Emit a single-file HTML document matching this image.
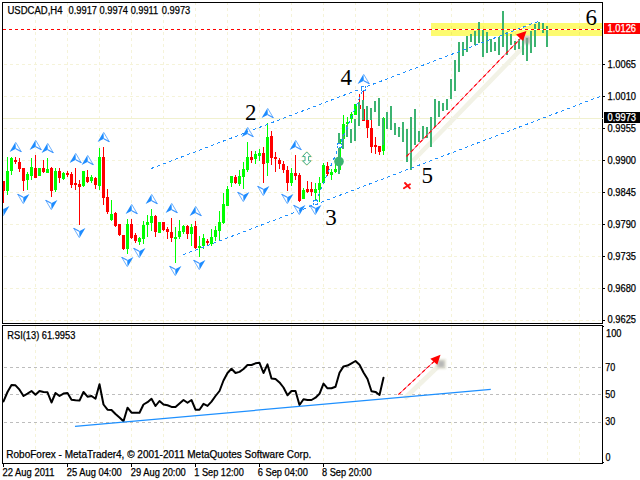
<!DOCTYPE html>
<html><head><meta charset="utf-8"><title>USDCAD,H4</title>
<style>html,body{margin:0;padding:0;background:#fff;overflow:hidden}svg{display:block}text{font-family:"Liberation Sans",sans-serif;font-size:10px;fill:#000;stroke:#000;stroke-width:0.25px}.s{font-family:"Liberation Serif",serif;font-size:23px;stroke:none}</style></head><body>
<svg width="640" height="480" viewBox="0 0 640 480">
<rect x="0" y="0" width="640" height="480" fill="#ffffff"/>
<g shape-rendering="crispEdges" fill="none" stroke="#f5f3d9" stroke-width="1" stroke-dasharray="3 3">
<line x1="35.5" y1="2" x2="35.5" y2="323"/>
<line x1="35.5" y1="326" x2="35.5" y2="463"/>
<line x1="67.5" y1="2" x2="67.5" y2="323"/>
<line x1="67.5" y1="326" x2="67.5" y2="463"/>
<line x1="99.5" y1="2" x2="99.5" y2="323"/>
<line x1="99.5" y1="326" x2="99.5" y2="463"/>
<line x1="131.5" y1="2" x2="131.5" y2="323"/>
<line x1="131.5" y1="326" x2="131.5" y2="463"/>
<line x1="163.5" y1="2" x2="163.5" y2="323"/>
<line x1="163.5" y1="326" x2="163.5" y2="463"/>
<line x1="195.5" y1="2" x2="195.5" y2="323"/>
<line x1="195.5" y1="326" x2="195.5" y2="463"/>
<line x1="227.5" y1="2" x2="227.5" y2="323"/>
<line x1="227.5" y1="326" x2="227.5" y2="463"/>
<line x1="259.5" y1="2" x2="259.5" y2="323"/>
<line x1="259.5" y1="326" x2="259.5" y2="463"/>
<line x1="291.5" y1="2" x2="291.5" y2="323"/>
<line x1="291.5" y1="326" x2="291.5" y2="463"/>
<line x1="323.5" y1="2" x2="323.5" y2="323"/>
<line x1="323.5" y1="326" x2="323.5" y2="463"/>
<line x1="355.5" y1="2" x2="355.5" y2="323"/>
<line x1="355.5" y1="326" x2="355.5" y2="463"/>
<line x1="387.5" y1="2" x2="387.5" y2="323"/>
<line x1="387.5" y1="326" x2="387.5" y2="463"/>
<line x1="419.5" y1="2" x2="419.5" y2="323"/>
<line x1="419.5" y1="326" x2="419.5" y2="463"/>
<line x1="451.5" y1="2" x2="451.5" y2="323"/>
<line x1="451.5" y1="326" x2="451.5" y2="463"/>
<line x1="483.5" y1="2" x2="483.5" y2="323"/>
<line x1="483.5" y1="326" x2="483.5" y2="463"/>
<line x1="515.5" y1="2" x2="515.5" y2="323"/>
<line x1="515.5" y1="326" x2="515.5" y2="463"/>
<line x1="547.5" y1="2" x2="547.5" y2="323"/>
<line x1="547.5" y1="326" x2="547.5" y2="463"/>
<line x1="579.5" y1="2" x2="579.5" y2="323"/>
<line x1="579.5" y1="326" x2="579.5" y2="463"/>
<line x1="4" y1="64.5" x2="602" y2="64.5"/>
<line x1="4" y1="96.5" x2="602" y2="96.5"/>
<line x1="4" y1="128.5" x2="602" y2="128.5"/>
<line x1="4" y1="160.5" x2="602" y2="160.5"/>
<line x1="4" y1="192.5" x2="602" y2="192.5"/>
<line x1="4" y1="224.5" x2="602" y2="224.5"/>
<line x1="4" y1="256.5" x2="602" y2="256.5"/>
<line x1="4" y1="288.5" x2="602" y2="288.5"/>
<line x1="4" y1="320.5" x2="602" y2="320.5"/>
</g>
<rect x="3" y="118" width="599" height="1" fill="#f1f1cf" shape-rendering="crispEdges"/>
<rect x="431" y="23" width="171" height="13" fill="#fdfb70" shape-rendering="crispEdges"/>
<g shape-rendering="crispEdges" fill="#f1ee68">
<rect x="451" y="26" width="1" height="3"/><rect x="451" y="32" width="1" height="3"/>
<rect x="483" y="26" width="1" height="3"/><rect x="483" y="32" width="1" height="3"/>
<rect x="515" y="26" width="1" height="3"/><rect x="515" y="32" width="1" height="3"/>
<rect x="547" y="26" width="1" height="3"/><rect x="547" y="32" width="1" height="3"/>
<rect x="579" y="26" width="1" height="3"/><rect x="579" y="32" width="1" height="3"/>
</g>
<g shape-rendering="crispEdges" fill="none" stroke="#bdbdbd" stroke-width="1" stroke-dasharray="3 3">
<line x1="4" y1="367.5" x2="602" y2="367.5"/>
<line x1="4" y1="394.5" x2="602" y2="394.5"/>
<line x1="4" y1="422.5" x2="602" y2="422.5"/>
</g>
<filter id="bl" x="-50%" y="-50%" width="200%" height="200%"><feGaussianBlur stdDeviation="0.8"/></filter>
<line x1="412.8" y1="161.0" x2="523.3" y2="47.0" stroke="#f2f2e6" stroke-width="4.6" />
<rect x="523" y="35.5" width="8" height="9" fill="#e6e5d8" filter="url(#bl)"/>
<line x1="404.5" y1="398.5" x2="438.0" y2="366.5" stroke="#f2f2e6" stroke-width="4.6" />
<rect x="436" y="359" width="10" height="10" fill="#e6e5d8" filter="url(#bl)"/>
<g shape-rendering="crispEdges">
<rect x="3" y="181" width="1" height="22" fill="#ff0000"/>
<rect x="2" y="181" width="3" height="10" fill="#ff0000"/>
<rect x="7" y="157" width="1" height="38" fill="#00ff00"/>
<rect x="6" y="171" width="3" height="20" fill="#00ff00"/>
<rect x="11" y="157" width="1" height="18" fill="#00ff00"/>
<rect x="10" y="158" width="3" height="13" fill="#00ff00"/>
<rect x="15" y="157" width="1" height="7" fill="#ff0000"/>
<rect x="14" y="160" width="3" height="2" fill="#ff0000"/>
<rect x="19" y="158" width="1" height="14" fill="#ff0000"/>
<rect x="18" y="162" width="3" height="7" fill="#ff0000"/>
<rect x="23" y="168" width="1" height="23" fill="#ff0000"/>
<rect x="22" y="168" width="3" height="13" fill="#ff0000"/>
<rect x="27" y="172" width="1" height="18" fill="#00ff00"/>
<rect x="26" y="174" width="3" height="6" fill="#00ff00"/>
<rect x="31" y="158" width="1" height="22" fill="#00ff00"/>
<rect x="30" y="167" width="3" height="9" fill="#00ff00"/>
<rect x="35" y="155" width="1" height="23" fill="#ff0000"/>
<rect x="34" y="168" width="3" height="10" fill="#ff0000"/>
<rect x="39" y="168" width="1" height="8" fill="#00ff00"/>
<rect x="38" y="168" width="3" height="8" fill="#00ff00"/>
<rect x="43" y="160" width="1" height="13" fill="#ff0000"/>
<rect x="42" y="168" width="3" height="4" fill="#ff0000"/>
<rect x="47" y="158" width="1" height="15" fill="#00ff00"/>
<rect x="46" y="169" width="3" height="4" fill="#00ff00"/>
<rect x="51" y="167" width="1" height="30" fill="#ff0000"/>
<rect x="50" y="168" width="3" height="23" fill="#ff0000"/>
<rect x="55" y="168" width="1" height="24" fill="#00ff00"/>
<rect x="54" y="171" width="3" height="19" fill="#00ff00"/>
<rect x="59" y="168" width="1" height="15" fill="#ff0000"/>
<rect x="58" y="171" width="3" height="7" fill="#ff0000"/>
<rect x="63" y="172" width="1" height="8" fill="#00ff00"/>
<rect x="62" y="173" width="3" height="6" fill="#00ff00"/>
<rect x="67" y="171" width="1" height="6" fill="#ff0000"/>
<rect x="66" y="173" width="3" height="2" fill="#ff0000"/>
<rect x="71" y="172" width="1" height="16" fill="#ff0000"/>
<rect x="70" y="174" width="3" height="11" fill="#ff0000"/>
<rect x="75" y="168" width="1" height="22" fill="#ff0000"/>
<rect x="74" y="183" width="3" height="2" fill="#ff0000"/>
<rect x="79" y="180" width="1" height="45" fill="#ff0000"/>
<rect x="78" y="184" width="3" height="3" fill="#ff0000"/>
<rect x="83" y="171" width="1" height="16" fill="#00ff00"/>
<rect x="82" y="171" width="3" height="15" fill="#00ff00"/>
<rect x="87" y="170" width="1" height="13" fill="#ff0000"/>
<rect x="86" y="177" width="3" height="5" fill="#ff0000"/>
<rect x="91" y="175" width="1" height="8" fill="#00ff00"/>
<rect x="90" y="177" width="3" height="4" fill="#00ff00"/>
<rect x="95" y="177" width="1" height="12" fill="#ff0000"/>
<rect x="94" y="178" width="3" height="7" fill="#ff0000"/>
<rect x="99" y="148" width="1" height="42" fill="#00ff00"/>
<rect x="98" y="157" width="3" height="29" fill="#00ff00"/>
<rect x="103" y="147" width="1" height="58" fill="#ff0000"/>
<rect x="102" y="157" width="3" height="41" fill="#ff0000"/>
<rect x="107" y="189" width="1" height="25" fill="#ff0000"/>
<rect x="106" y="197" width="3" height="15" fill="#ff0000"/>
<rect x="111" y="200" width="1" height="21" fill="#00ff00"/>
<rect x="110" y="214" width="3" height="6" fill="#00ff00"/>
<rect x="115" y="212" width="1" height="15" fill="#ff0000"/>
<rect x="114" y="213" width="3" height="13" fill="#ff0000"/>
<rect x="119" y="224" width="1" height="12" fill="#ff0000"/>
<rect x="118" y="224" width="3" height="11" fill="#ff0000"/>
<rect x="123" y="235" width="1" height="15" fill="#ff0000"/>
<rect x="122" y="235" width="3" height="14" fill="#ff0000"/>
<rect x="127" y="219" width="1" height="35" fill="#00ff00"/>
<rect x="126" y="224" width="3" height="25" fill="#00ff00"/>
<rect x="131" y="219" width="1" height="20" fill="#ff0000"/>
<rect x="130" y="224" width="3" height="14" fill="#ff0000"/>
<rect x="135" y="233" width="1" height="10" fill="#ff0000"/>
<rect x="134" y="235" width="3" height="6" fill="#ff0000"/>
<rect x="139" y="237" width="1" height="8" fill="#00ff00"/>
<rect x="138" y="238" width="3" height="4" fill="#00ff00"/>
<rect x="143" y="221" width="1" height="23" fill="#00ff00"/>
<rect x="142" y="225" width="3" height="14" fill="#00ff00"/>
<rect x="147" y="215" width="1" height="22" fill="#00ff00"/>
<rect x="146" y="222" width="3" height="3" fill="#00ff00"/>
<rect x="151" y="209" width="1" height="22" fill="#00ff00"/>
<rect x="150" y="216" width="3" height="7" fill="#00ff00"/>
<rect x="155" y="215" width="1" height="22" fill="#ff0000"/>
<rect x="154" y="216" width="3" height="16" fill="#ff0000"/>
<rect x="159" y="222" width="1" height="11" fill="#00ff00"/>
<rect x="158" y="222" width="3" height="11" fill="#00ff00"/>
<rect x="163" y="222" width="1" height="9" fill="#ff0000"/>
<rect x="162" y="222" width="3" height="8" fill="#ff0000"/>
<rect x="167" y="227" width="1" height="12" fill="#ff0000"/>
<rect x="166" y="229" width="3" height="3" fill="#ff0000"/>
<rect x="171" y="218" width="1" height="24" fill="#ff0000"/>
<rect x="170" y="232" width="3" height="6" fill="#ff0000"/>
<rect x="175" y="227" width="1" height="36" fill="#00ff00"/>
<rect x="174" y="237" width="3" height="2" fill="#00ff00"/>
<rect x="179" y="220" width="1" height="19" fill="#00ff00"/>
<rect x="178" y="231" width="3" height="6" fill="#00ff00"/>
<rect x="183" y="225" width="1" height="9" fill="#00ff00"/>
<rect x="182" y="226" width="3" height="6" fill="#00ff00"/>
<rect x="187" y="225" width="1" height="14" fill="#ff0000"/>
<rect x="186" y="226" width="3" height="8" fill="#ff0000"/>
<rect x="191" y="224" width="1" height="22" fill="#00ff00"/>
<rect x="190" y="227" width="3" height="7" fill="#00ff00"/>
<rect x="195" y="221" width="1" height="28" fill="#ff0000"/>
<rect x="194" y="226" width="3" height="22" fill="#ff0000"/>
<rect x="199" y="236" width="1" height="21" fill="#00ff00"/>
<rect x="198" y="246" width="3" height="2" fill="#00ff00"/>
<rect x="203" y="234" width="1" height="15" fill="#00ff00"/>
<rect x="202" y="238" width="3" height="8" fill="#00ff00"/>
<rect x="207" y="239" width="1" height="7" fill="#ff0000"/>
<rect x="206" y="241" width="3" height="2" fill="#ff0000"/>
<rect x="211" y="229" width="1" height="17" fill="#00ff00"/>
<rect x="210" y="237" width="3" height="7" fill="#00ff00"/>
<rect x="215" y="226" width="1" height="15" fill="#00ff00"/>
<rect x="214" y="230" width="3" height="7" fill="#00ff00"/>
<rect x="219" y="211" width="1" height="29" fill="#00ff00"/>
<rect x="218" y="222" width="3" height="9" fill="#00ff00"/>
<rect x="223" y="193" width="1" height="31" fill="#00ff00"/>
<rect x="222" y="204" width="3" height="19" fill="#00ff00"/>
<rect x="227" y="186" width="1" height="20" fill="#00ff00"/>
<rect x="226" y="189" width="3" height="17" fill="#00ff00"/>
<rect x="231" y="176" width="1" height="11" fill="#00ff00"/>
<rect x="230" y="176" width="3" height="7" fill="#00ff00"/>
<rect x="235" y="175" width="1" height="9" fill="#ff0000"/>
<rect x="234" y="177" width="3" height="6" fill="#ff0000"/>
<rect x="239" y="170" width="1" height="16" fill="#00ff00"/>
<rect x="238" y="176" width="3" height="8" fill="#00ff00"/>
<rect x="243" y="162" width="1" height="27" fill="#00ff00"/>
<rect x="242" y="169" width="3" height="8" fill="#00ff00"/>
<rect x="247" y="142" width="1" height="30" fill="#00ff00"/>
<rect x="246" y="157" width="3" height="13" fill="#00ff00"/>
<rect x="251" y="151" width="1" height="12" fill="#ff0000"/>
<rect x="250" y="157" width="3" height="3" fill="#ff0000"/>
<rect x="255" y="151" width="1" height="13" fill="#00ff00"/>
<rect x="254" y="154" width="3" height="5" fill="#00ff00"/>
<rect x="259" y="149" width="1" height="12" fill="#00ff00"/>
<rect x="258" y="153" width="3" height="3" fill="#00ff00"/>
<rect x="263" y="147" width="1" height="36" fill="#ff0000"/>
<rect x="262" y="153" width="3" height="11" fill="#ff0000"/>
<rect x="267" y="123" width="1" height="53" fill="#00ff00"/>
<rect x="266" y="137" width="3" height="26" fill="#00ff00"/>
<rect x="271" y="131" width="1" height="34" fill="#ff0000"/>
<rect x="270" y="136" width="3" height="22" fill="#ff0000"/>
<rect x="275" y="152" width="1" height="20" fill="#ff0000"/>
<rect x="274" y="157" width="3" height="2" fill="#ff0000"/>
<rect x="279" y="158" width="1" height="11" fill="#ff0000"/>
<rect x="278" y="160" width="3" height="4" fill="#ff0000"/>
<rect x="283" y="161" width="1" height="12" fill="#ff0000"/>
<rect x="282" y="164" width="3" height="6" fill="#ff0000"/>
<rect x="287" y="166" width="1" height="25" fill="#ff0000"/>
<rect x="286" y="170" width="3" height="13" fill="#ff0000"/>
<rect x="291" y="168" width="1" height="18" fill="#00ff00"/>
<rect x="290" y="173" width="3" height="10" fill="#00ff00"/>
<rect x="295" y="155" width="1" height="25" fill="#ff0000"/>
<rect x="294" y="173" width="3" height="3" fill="#ff0000"/>
<rect x="299" y="173" width="1" height="29" fill="#ff0000"/>
<rect x="298" y="175" width="3" height="26" fill="#ff0000"/>
<rect x="303" y="188" width="1" height="11" fill="#00ff00"/>
<rect x="302" y="190" width="3" height="9" fill="#00ff00"/>
<rect x="307" y="181" width="1" height="12" fill="#ff0000"/>
<rect x="306" y="189" width="3" height="3" fill="#ff0000"/>
<rect x="311" y="182" width="1" height="14" fill="#ff0000"/>
<rect x="310" y="189" width="3" height="3" fill="#ff0000"/>
<rect x="315" y="183" width="1" height="17" fill="#00ff00"/>
<rect x="314" y="189" width="3" height="4" fill="#00ff00"/>
<rect x="319" y="177" width="1" height="25" fill="#00ff00"/>
<rect x="318" y="183" width="3" height="7" fill="#00ff00"/>
<rect x="323" y="163" width="1" height="20" fill="#00ff00"/>
<rect x="322" y="165" width="3" height="18" fill="#00ff00"/>
<rect x="327" y="162" width="1" height="14" fill="#ff0000"/>
<rect x="326" y="166" width="3" height="8" fill="#ff0000"/>
<rect x="331" y="169" width="1" height="11" fill="#00ff00"/>
<rect x="330" y="172" width="3" height="3" fill="#00ff00"/>
<rect x="335" y="164" width="1" height="9" fill="#00ff00"/>
<rect x="334" y="169" width="3" height="3" fill="#00ff00"/>
<rect x="339" y="133" width="1" height="37" fill="#00ff00"/>
<rect x="338" y="139" width="3" height="31" fill="#00ff00"/>
<rect x="343" y="115" width="1" height="24" fill="#00ff00"/>
<rect x="342" y="124" width="3" height="15" fill="#00ff00"/>
<rect x="347" y="117" width="1" height="13" fill="#00ff00"/>
<rect x="346" y="122" width="3" height="2" fill="#00ff00"/>
<rect x="351" y="112" width="1" height="11" fill="#00ff00"/>
<rect x="350" y="114" width="3" height="5" fill="#00ff00"/>
<rect x="355" y="104" width="1" height="11" fill="#00ff00"/>
<rect x="354" y="104" width="3" height="11" fill="#00ff00"/>
<rect x="359" y="94" width="1" height="15" fill="#ff0000"/>
<rect x="358" y="105" width="3" height="4" fill="#ff0000"/>
<rect x="363" y="91" width="1" height="30" fill="#ff0000"/>
<rect x="362" y="109" width="3" height="12" fill="#ff0000"/>
<rect x="367" y="120" width="1" height="18" fill="#ff0000"/>
<rect x="366" y="120" width="3" height="8" fill="#ff0000"/>
<rect x="371" y="120" width="1" height="33" fill="#ff0000"/>
<rect x="370" y="128" width="3" height="19" fill="#ff0000"/>
<rect x="375" y="137" width="1" height="17" fill="#ff0000"/>
<rect x="374" y="145" width="3" height="2" fill="#ff0000"/>
<rect x="379" y="146" width="1" height="9" fill="#ff0000"/>
<rect x="378" y="146" width="3" height="6" fill="#ff0000"/>
<rect x="383" y="117" width="1" height="38" fill="#00ff00"/>
<rect x="382" y="118" width="3" height="33" fill="#00ff00"/>
</g>
<g shape-rendering="crispEdges" fill="#3cb371">
<rect x="338" y="133" width="2" height="41"/>
<rect x="342" y="134" width="2" height="15"/>
<rect x="346" y="125" width="2" height="12"/>
<rect x="350" y="129" width="2" height="14"/>
<rect x="354" y="119" width="2" height="22"/>
<rect x="358" y="102" width="2" height="24"/>
<rect x="362" y="100" width="2" height="20"/>
<rect x="366" y="106" width="2" height="14"/>
<rect x="370" y="108" width="2" height="12"/>
<rect x="374" y="101" width="2" height="11"/>
<rect x="378" y="98" width="2" height="28"/>
<rect x="382" y="118" width="2" height="27"/>
<rect x="386" y="112" width="2" height="17"/>
<rect x="390" y="106" width="2" height="24"/>
<rect x="394" y="123" width="2" height="12"/>
<rect x="398" y="127" width="2" height="10"/>
<rect x="402" y="122" width="2" height="20"/>
<rect x="406" y="129" width="2" height="33"/>
<rect x="410" y="117" width="2" height="53"/>
<rect x="414" y="109" width="2" height="36"/>
<rect x="418" y="131" width="2" height="11"/>
<rect x="422" y="126" width="2" height="13"/>
<rect x="426" y="127" width="2" height="11"/>
<rect x="430" y="117" width="2" height="30"/>
<rect x="434" y="99" width="2" height="28"/>
<rect x="438" y="101" width="2" height="16"/>
<rect x="442" y="103" width="2" height="8"/>
<rect x="446" y="99" width="2" height="11"/>
<rect x="450" y="79" width="2" height="20"/>
<rect x="454" y="60" width="2" height="31"/>
<rect x="458" y="42" width="2" height="30"/>
<rect x="462" y="42" width="2" height="14"/>
<rect x="466" y="36" width="2" height="16"/>
<rect x="470" y="34" width="2" height="8"/>
<rect x="474" y="31" width="2" height="14"/>
<rect x="478" y="22" width="2" height="21"/>
<rect x="482" y="30" width="2" height="27"/>
<rect x="486" y="32" width="2" height="21"/>
<rect x="490" y="39" width="2" height="13"/>
<rect x="494" y="42" width="2" height="9"/>
<rect x="498" y="37" width="2" height="18"/>
<rect x="502" y="11" width="2" height="36"/>
<rect x="506" y="32" width="2" height="23"/>
<rect x="510" y="34" width="2" height="11"/>
<rect x="514" y="41" width="2" height="9"/>
<rect x="518" y="39" width="2" height="10"/>
<rect x="522" y="37" width="2" height="18"/>
<rect x="526" y="38" width="2" height="23"/>
<rect x="530" y="31" width="2" height="22"/>
<rect x="534" y="24" width="2" height="23"/>
<rect x="538" y="22" width="2" height="7"/>
<rect x="542" y="23" width="2" height="10"/>
<rect x="546" y="26" width="2" height="21"/>
</g>
<rect x="524.3" y="36.5" width="5.6" height="7" fill="#9a9a9a" fill-opacity="0.62" filter="url(#bl)"/>
<rect x="437.8" y="360.8" width="6.4" height="6.4" fill="#b4b4b4" fill-opacity="0.95" filter="url(#bl)"/>
<circle cx="339" cy="161.5" r="4.8" fill="#3cb371"/>
<line x1="505.00" y1="34.03" x2="538.50" y2="21.30" stroke="#fff" stroke-width="1" shape-rendering="crispEdges"/>
<line x1="151.00" y1="168.60" x2="538.50" y2="21.30" stroke="#1e90ff" stroke-width="1" stroke-dasharray="3.21 3.21" shape-rendering="crispEdges"/>
<line x1="183.00" y1="254.80" x2="602.00" y2="95.72" stroke="#1e90ff" stroke-width="1" stroke-dasharray="3.21 3.21" shape-rendering="crispEdges"/>
<line x1="315.50" y1="202.30" x2="363.50" y2="88.50" stroke="#1e90ff" stroke-width="1" stroke-dasharray="3.26 3.26" shape-rendering="crispEdges"/>
<rect x="313.5" y="200.5" width="4" height="4" fill="#fff" stroke="#1e90ff" stroke-width="1" stroke-dasharray="2 1" shape-rendering="crispEdges"/>
<rect x="337.5" y="143.5" width="4" height="4" fill="#fff" stroke="#1e90ff" stroke-width="1" stroke-dasharray="2 1" shape-rendering="crispEdges"/>
<rect x="361.5" y="86.5" width="4" height="4" fill="#fff" stroke="#1e90ff" stroke-width="1" stroke-dasharray="2 1" shape-rendering="crispEdges"/>
<rect x="431" y="29" width="171" height="1" fill="#fff" shape-rendering="crispEdges"/>
<line x1="3" y1="29.5" x2="602" y2="29.5" stroke="#ff0000" stroke-width="1" stroke-dasharray="3 3" shape-rendering="crispEdges"/>
<line x1="406.5" y1="156.5" x2="520.5" y2="38.5" stroke="#ff4d80" stroke-width="1"/>
<line x1="406.5" y1="156.5" x2="520.5" y2="38.5" stroke="#ff0000" stroke-width="1.1" stroke-dasharray="3.5 3"/>
<polygon points="526.5,31 516,34.5 523,41" fill="#ff0000"/>
<line x1="398.5" y1="394.5" x2="434.0" y2="361.5" stroke="#ff4d80" stroke-width="1"/>
<line x1="398.5" y1="394.5" x2="434.0" y2="361.5" stroke="#ff0000" stroke-width="1.1" stroke-dasharray="3.5 3"/>
<polygon points="440.5,354.8 430.3,358.8 437.3,364.7" fill="#ff0000"/>
<clipPath id="cm"><rect x="3" y="3" width="599" height="320"/></clipPath>
<g clip-path="url(#cm)">
<polygon points="15.5,141.9 9.6,151.9 15.8,148.8" fill="#1e8cff"/>
<polygon points="15.8,143.1 20.7,151.4 16.3,148.8" fill="#fff"/>
<line x1="15.7" y1="142.3" x2="21.3" y2="151.8" stroke="#5aa7ff" stroke-width="0.9"/>
<line x1="15.8" y1="148.8" x2="21.4" y2="151.7" stroke="#3893ff" stroke-width="1.1"/>
<polygon points="35.5,139.9 29.6,149.9 35.8,146.8" fill="#1e8cff"/>
<polygon points="35.8,141.1 40.7,149.4 36.3,146.8" fill="#fff"/>
<line x1="35.7" y1="140.3" x2="41.3" y2="149.8" stroke="#5aa7ff" stroke-width="0.9"/>
<line x1="35.8" y1="146.8" x2="41.4" y2="149.7" stroke="#3893ff" stroke-width="1.1"/>
<polygon points="47.5,142.9 41.6,152.9 47.8,149.8" fill="#1e8cff"/>
<polygon points="47.8,144.1 52.7,152.4 48.3,149.8" fill="#fff"/>
<line x1="47.7" y1="143.3" x2="53.3" y2="152.8" stroke="#5aa7ff" stroke-width="0.9"/>
<line x1="47.8" y1="149.8" x2="53.4" y2="152.7" stroke="#3893ff" stroke-width="1.1"/>
<polygon points="75.5,152.9 69.6,162.9 75.8,159.8" fill="#1e8cff"/>
<polygon points="75.8,154.1 80.7,162.4 76.3,159.8" fill="#fff"/>
<line x1="75.7" y1="153.3" x2="81.3" y2="162.8" stroke="#5aa7ff" stroke-width="0.9"/>
<line x1="75.8" y1="159.8" x2="81.4" y2="162.7" stroke="#3893ff" stroke-width="1.1"/>
<polygon points="87.5,154.9 81.6,164.9 87.8,161.8" fill="#1e8cff"/>
<polygon points="87.8,156.1 92.7,164.4 88.3,161.8" fill="#fff"/>
<line x1="87.7" y1="155.3" x2="93.3" y2="164.8" stroke="#5aa7ff" stroke-width="0.9"/>
<line x1="87.8" y1="161.8" x2="93.4" y2="164.7" stroke="#3893ff" stroke-width="1.1"/>
<polygon points="103.5,131.9 97.6,141.9 103.8,138.8" fill="#1e8cff"/>
<polygon points="103.8,133.1 108.7,141.4 104.3,138.8" fill="#fff"/>
<line x1="103.7" y1="132.3" x2="109.3" y2="141.8" stroke="#5aa7ff" stroke-width="0.9"/>
<line x1="103.8" y1="138.8" x2="109.4" y2="141.7" stroke="#3893ff" stroke-width="1.1"/>
<polygon points="131.5,203.9 125.6,213.9 131.8,210.8" fill="#1e8cff"/>
<polygon points="131.8,205.1 136.7,213.4 132.3,210.8" fill="#fff"/>
<line x1="131.7" y1="204.3" x2="137.3" y2="213.8" stroke="#5aa7ff" stroke-width="0.9"/>
<line x1="131.8" y1="210.8" x2="137.4" y2="213.7" stroke="#3893ff" stroke-width="1.1"/>
<polygon points="151.5,193.9 145.6,203.9 151.8,200.8" fill="#1e8cff"/>
<polygon points="151.8,195.1 156.7,203.4 152.3,200.8" fill="#fff"/>
<line x1="151.7" y1="194.3" x2="157.3" y2="203.8" stroke="#5aa7ff" stroke-width="0.9"/>
<line x1="151.8" y1="200.8" x2="157.4" y2="203.7" stroke="#3893ff" stroke-width="1.1"/>
<polygon points="171.5,202.9 165.6,212.9 171.8,209.8" fill="#1e8cff"/>
<polygon points="171.8,204.1 176.7,212.4 172.3,209.8" fill="#fff"/>
<line x1="171.7" y1="203.3" x2="177.3" y2="212.8" stroke="#5aa7ff" stroke-width="0.9"/>
<line x1="171.8" y1="209.8" x2="177.4" y2="212.7" stroke="#3893ff" stroke-width="1.1"/>
<polygon points="195.5,205.9 189.6,215.9 195.8,212.8" fill="#1e8cff"/>
<polygon points="195.8,207.1 200.7,215.4 196.3,212.8" fill="#fff"/>
<line x1="195.7" y1="206.3" x2="201.3" y2="215.8" stroke="#5aa7ff" stroke-width="0.9"/>
<line x1="195.8" y1="212.8" x2="201.4" y2="215.7" stroke="#3893ff" stroke-width="1.1"/>
<polygon points="247.5,126.9 241.6,136.9 247.8,133.8" fill="#1e8cff"/>
<polygon points="247.8,128.1 252.7,136.4 248.3,133.8" fill="#fff"/>
<line x1="247.7" y1="127.3" x2="253.3" y2="136.8" stroke="#5aa7ff" stroke-width="0.9"/>
<line x1="247.8" y1="133.8" x2="253.4" y2="136.7" stroke="#3893ff" stroke-width="1.1"/>
<polygon points="267.5,107.9 261.6,117.9 267.8,114.8" fill="#1e8cff"/>
<polygon points="267.8,109.1 272.7,117.4 268.3,114.8" fill="#fff"/>
<line x1="267.7" y1="108.3" x2="273.3" y2="117.8" stroke="#5aa7ff" stroke-width="0.9"/>
<line x1="267.8" y1="114.8" x2="273.4" y2="117.7" stroke="#3893ff" stroke-width="1.1"/>
<polygon points="295.5,139.9 289.6,149.9 295.8,146.8" fill="#1e8cff"/>
<polygon points="295.8,141.1 300.7,149.4 296.3,146.8" fill="#fff"/>
<line x1="295.7" y1="140.3" x2="301.3" y2="149.8" stroke="#5aa7ff" stroke-width="0.9"/>
<line x1="295.8" y1="146.8" x2="301.4" y2="149.7" stroke="#3893ff" stroke-width="1.1"/>
<polygon points="363.5,73.9 357.6,83.9 363.8,80.8" fill="#1e8cff"/>
<polygon points="363.8,75.1 368.7,83.4 364.3,80.8" fill="#fff"/>
<line x1="363.7" y1="74.3" x2="369.3" y2="83.8" stroke="#5aa7ff" stroke-width="0.9"/>
<line x1="363.8" y1="80.8" x2="369.4" y2="83.7" stroke="#3893ff" stroke-width="1.1"/>
<polygon points="3.5,216.1 9.4,206.1 3.2,209.2" fill="#1e8cff"/>
<polygon points="3.2,214.9 -1.7,206.6 2.7,209.2" fill="#fff"/>
<line x1="3.3" y1="215.7" x2="-2.3" y2="206.2" stroke="#5aa7ff" stroke-width="0.9"/>
<line x1="3.2" y1="209.2" x2="-2.4" y2="206.3" stroke="#3893ff" stroke-width="1.1"/>
<polygon points="23.5,204.1 29.4,194.1 23.2,197.2" fill="#1e8cff"/>
<polygon points="23.2,202.9 18.3,194.6 22.7,197.2" fill="#fff"/>
<line x1="23.3" y1="203.7" x2="17.7" y2="194.2" stroke="#5aa7ff" stroke-width="0.9"/>
<line x1="23.2" y1="197.2" x2="17.6" y2="194.3" stroke="#3893ff" stroke-width="1.1"/>
<polygon points="51.5,210.1 57.4,200.1 51.2,203.2" fill="#1e8cff"/>
<polygon points="51.2,208.9 46.3,200.6 50.7,203.2" fill="#fff"/>
<line x1="51.3" y1="209.7" x2="45.7" y2="200.2" stroke="#5aa7ff" stroke-width="0.9"/>
<line x1="51.2" y1="203.2" x2="45.6" y2="200.3" stroke="#3893ff" stroke-width="1.1"/>
<polygon points="79.5,238.1 85.4,228.1 79.2,231.2" fill="#1e8cff"/>
<polygon points="79.2,236.9 74.3,228.6 78.7,231.2" fill="#fff"/>
<line x1="79.3" y1="237.7" x2="73.7" y2="228.2" stroke="#5aa7ff" stroke-width="0.9"/>
<line x1="79.2" y1="231.2" x2="73.6" y2="228.3" stroke="#3893ff" stroke-width="1.1"/>
<polygon points="127.5,267.1 133.4,257.1 127.2,260.2" fill="#1e8cff"/>
<polygon points="127.2,265.9 122.3,257.6 126.7,260.2" fill="#fff"/>
<line x1="127.3" y1="266.7" x2="121.7" y2="257.2" stroke="#5aa7ff" stroke-width="0.9"/>
<line x1="127.2" y1="260.2" x2="121.6" y2="257.3" stroke="#3893ff" stroke-width="1.1"/>
<polygon points="139.5,258.1 145.4,248.1 139.2,251.2" fill="#1e8cff"/>
<polygon points="139.2,256.9 134.3,248.6 138.7,251.2" fill="#fff"/>
<line x1="139.3" y1="257.7" x2="133.7" y2="248.2" stroke="#5aa7ff" stroke-width="0.9"/>
<line x1="139.2" y1="251.2" x2="133.6" y2="248.3" stroke="#3893ff" stroke-width="1.1"/>
<polygon points="175.5,276.1 181.4,266.1 175.2,269.2" fill="#1e8cff"/>
<polygon points="175.2,274.9 170.3,266.6 174.7,269.2" fill="#fff"/>
<line x1="175.3" y1="275.7" x2="169.7" y2="266.2" stroke="#5aa7ff" stroke-width="0.9"/>
<line x1="175.2" y1="269.2" x2="169.6" y2="266.3" stroke="#3893ff" stroke-width="1.1"/>
<polygon points="199.5,270.1 205.4,260.1 199.2,263.2" fill="#1e8cff"/>
<polygon points="199.2,268.9 194.3,260.6 198.7,263.2" fill="#fff"/>
<line x1="199.3" y1="269.7" x2="193.7" y2="260.2" stroke="#5aa7ff" stroke-width="0.9"/>
<line x1="199.2" y1="263.2" x2="193.6" y2="260.3" stroke="#3893ff" stroke-width="1.1"/>
<polygon points="243.5,202.1 249.4,192.1 243.2,195.2" fill="#1e8cff"/>
<polygon points="243.2,200.9 238.3,192.6 242.7,195.2" fill="#fff"/>
<line x1="243.3" y1="201.7" x2="237.7" y2="192.2" stroke="#5aa7ff" stroke-width="0.9"/>
<line x1="243.2" y1="195.2" x2="237.6" y2="192.3" stroke="#3893ff" stroke-width="1.1"/>
<polygon points="263.5,196.1 269.4,186.1 263.2,189.2" fill="#1e8cff"/>
<polygon points="263.2,194.9 258.3,186.6 262.7,189.2" fill="#fff"/>
<line x1="263.3" y1="195.7" x2="257.7" y2="186.2" stroke="#5aa7ff" stroke-width="0.9"/>
<line x1="263.2" y1="189.2" x2="257.6" y2="186.3" stroke="#3893ff" stroke-width="1.1"/>
<polygon points="287.5,204.1 293.4,194.1 287.2,197.2" fill="#1e8cff"/>
<polygon points="287.2,202.9 282.3,194.6 286.7,197.2" fill="#fff"/>
<line x1="287.3" y1="203.7" x2="281.7" y2="194.2" stroke="#5aa7ff" stroke-width="0.9"/>
<line x1="287.2" y1="197.2" x2="281.6" y2="194.3" stroke="#3893ff" stroke-width="1.1"/>
<polygon points="299.5,215.1 305.4,205.1 299.2,208.2" fill="#1e8cff"/>
<polygon points="299.2,213.9 294.3,205.6 298.7,208.2" fill="#fff"/>
<line x1="299.3" y1="214.7" x2="293.7" y2="205.2" stroke="#5aa7ff" stroke-width="0.9"/>
<line x1="299.2" y1="208.2" x2="293.6" y2="205.3" stroke="#3893ff" stroke-width="1.1"/>
<polygon points="315.5,215.1 321.4,205.1 315.2,208.2" fill="#1e8cff"/>
<polygon points="315.2,213.9 310.3,205.6 314.7,208.2" fill="#fff"/>
<line x1="315.3" y1="214.7" x2="309.7" y2="205.2" stroke="#5aa7ff" stroke-width="0.9"/>
<line x1="315.2" y1="208.2" x2="309.6" y2="205.3" stroke="#3893ff" stroke-width="1.1"/>
</g>
<path d="M306.8,152 L311,156.5 L308.5,156.5 L308.5,160.8 L311,160.8 L306.8,165 L302.6,160.8 L305.1,160.8 L305.1,156.5 L302.6,156.5 Z" fill="#fff" stroke="#f5e2a8" stroke-width="1.5" stroke-linejoin="miter"/>
<path d="M306.8,152 L311,156.5 L308.5,156.5 L308.5,160.8 L311,160.8 L306.8,165 L302.6,160.8 L305.1,160.8 L305.1,156.5 L302.6,156.5 Z" fill="#fff" stroke="#2aaa90" stroke-width="0.85" stroke-linejoin="miter"/>
<g stroke="#ff1010" stroke-width="1.9" stroke-linecap="round">
<line x1="405" y1="183" x2="409.8" y2="188.2"/><line x1="410" y1="184.2" x2="403.9" y2="188.2"/>
</g>
<polyline points="3.5,401.4 7.5,392.0 11.5,385.0 15.5,385.3 19.5,389.7 23.5,396.0 27.5,393.6 31.5,391.0 35.5,394.7 39.5,391.0 43.5,392.0 47.5,392.3 51.5,402.5 55.5,393.0 59.5,396.0 63.5,393.6 67.5,393.0 71.5,399.8 75.5,400.3 79.5,400.6 83.5,392.0 87.5,396.7 91.5,396.0 95.5,398.8 99.5,384.2 103.5,404.5 107.5,409.7 111.5,410.0 115.5,414.0 119.5,417.5 123.5,421.2 127.5,407.7 131.5,412.7 135.5,412.8 139.5,412.7 143.5,404.5 147.5,402.2 151.5,398.8 155.5,406.0 159.5,401.0 163.5,404.5 167.5,405.3 171.5,406.9 175.5,406.9 179.5,403.4 183.5,400.0 187.5,402.8 191.5,400.0 195.5,409.7 199.5,409.7 203.5,403.9 207.5,405.9 211.5,401.6 215.5,396.0 219.5,391.0 223.5,380.5 227.5,373.0 231.5,368.8 235.5,373.0 239.5,371.9 243.5,369.0 247.5,365.0 251.5,365.0 255.5,363.3 259.5,362.8 263.5,373.0 267.5,364.4 271.5,378.4 275.5,379.0 279.5,382.4 283.5,387.5 287.5,395.3 291.5,391.0 295.5,391.0 299.5,405.0 303.5,399.2 307.5,400.0 311.5,400.0 315.5,397.7 319.5,393.8 323.5,383.6 327.5,388.3 331.5,388.3 335.5,386.7 339.5,372.7 343.5,366.4 347.5,365.6 351.5,363.3 355.5,361.0 359.5,364.8 363.5,372.5 367.5,379.0 371.5,391.2 375.5,391.9 379.5,395.0 383.5,377.8" fill="none" stroke="#000" stroke-width="2" stroke-linejoin="round" stroke-linecap="round"/>
<line x1="75.0" y1="426.4" x2="490.8" y2="389.4" stroke="#1e90ff" stroke-width="1.2" />
<g shape-rendering="crispEdges" fill="#000">
<rect x="2" y="2" width="601" height="1"/>
<rect x="2" y="2" width="1" height="462"/>
<rect x="602" y="2" width="1" height="462"/>
<rect x="2" y="323" width="601" height="1"/>
<rect x="2" y="325" width="601" height="1"/>
<rect x="2" y="463" width="601" height="1"/>
<rect x="2" y="324" width="601" height="1" fill="#fff"/>
<rect x="603" y="64" width="2" height="1"/>
<rect x="603" y="96" width="2" height="1"/>
<rect x="603" y="128" width="2" height="1"/>
<rect x="603" y="160" width="2" height="1"/>
<rect x="603" y="192" width="2" height="1"/>
<rect x="603" y="224" width="2" height="1"/>
<rect x="603" y="256" width="2" height="1"/>
<rect x="603" y="288" width="2" height="1"/>
<rect x="603" y="320" width="2" height="1"/>
<rect x="603" y="326" width="1" height="1"/>
<rect x="603" y="462" width="1" height="1"/>
<rect x="3" y="464" width="1" height="3"/>
<rect x="67" y="464" width="1" height="3"/>
<rect x="131" y="464" width="1" height="3"/>
<rect x="195" y="464" width="1" height="3"/>
<rect x="259" y="464" width="1" height="3"/>
<rect x="323" y="464" width="1" height="3"/>
</g>
<rect x="602" y="118" width="1" height="1" fill="#d8d8c0" shape-rendering="crispEdges"/>
<text x="7.5" y="14.0" textLength="55.0" lengthAdjust="spacingAndGlyphs">USDCAD,H4</text>
<text x="68.5" y="14.0" textLength="28.5" lengthAdjust="spacingAndGlyphs">0.9917</text>
<text x="99.5" y="14.0" textLength="28.5" lengthAdjust="spacingAndGlyphs">0.9974</text>
<text x="130.7" y="14.0" textLength="27.5" lengthAdjust="spacingAndGlyphs">0.9911</text>
<text x="161.8" y="14.0" textLength="28.5" lengthAdjust="spacingAndGlyphs">0.9973</text>
<text x="7.3" y="339.0" textLength="68.0" lengthAdjust="spacingAndGlyphs">RSI(13) 61.9953</text>
<text x="6.3" y="458.0" textLength="305.0" lengthAdjust="spacingAndGlyphs">RoboForex - MetaTrader4, &#169; 2001-2011 MetaQuotes Software Corp.</text>
<text x="2.6" y="476.0" textLength="52.0" lengthAdjust="spacingAndGlyphs">22 Aug 2011</text>
<text x="66.8" y="476.0" textLength="55.0" lengthAdjust="spacingAndGlyphs">25 Aug 04:00</text>
<text x="130.8" y="476.0" textLength="55.0" lengthAdjust="spacingAndGlyphs">29 Aug 20:00</text>
<text x="194.3" y="476.0" textLength="49.5" lengthAdjust="spacingAndGlyphs">1 Sep 12:00</text>
<text x="257.8" y="476.0" textLength="50.0" lengthAdjust="spacingAndGlyphs">6 Sep 04:00</text>
<text x="322.0" y="476.0" textLength="49.5" lengthAdjust="spacingAndGlyphs">8 Sep 20:00</text>
<text x="607.5" y="67.7" textLength="28.5" lengthAdjust="spacingAndGlyphs">1.0065</text>
<text x="607.5" y="99.7" textLength="28.5" lengthAdjust="spacingAndGlyphs">1.0010</text>
<text x="607.5" y="131.7" textLength="28.5" lengthAdjust="spacingAndGlyphs">0.9955</text>
<text x="607.5" y="163.7" textLength="28.5" lengthAdjust="spacingAndGlyphs">0.9900</text>
<text x="607.5" y="195.7" textLength="28.5" lengthAdjust="spacingAndGlyphs">0.9845</text>
<text x="607.5" y="227.7" textLength="28.5" lengthAdjust="spacingAndGlyphs">0.9790</text>
<text x="607.5" y="259.7" textLength="28.5" lengthAdjust="spacingAndGlyphs">0.9735</text>
<text x="607.5" y="291.7" textLength="28.5" lengthAdjust="spacingAndGlyphs">0.9680</text>
<text x="607.5" y="322.7" textLength="28.5" lengthAdjust="spacingAndGlyphs">0.9625</text>
<rect x="604" y="112" width="36" height="11" fill="#000" shape-rendering="crispEdges"/>
<text x="607.5" y="121.3" textLength="28.5" lengthAdjust="spacingAndGlyphs" fill="#ffffff" style="fill:#ffffff;stroke:#ffffff">0.9973</text>
<rect x="604" y="23" width="36" height="11" fill="#ff0000" shape-rendering="crispEdges"/>
<text x="607.5" y="32.3" textLength="28.5" lengthAdjust="spacingAndGlyphs" fill="#ffffff" style="fill:#ffffff;stroke:#ffffff">1.0126</text>
<text x="606.0" y="336.5" textLength="15.5" lengthAdjust="spacingAndGlyphs">100</text>
<text x="605.3" y="370.5" textLength="10.0" lengthAdjust="spacingAndGlyphs">70</text>
<text x="605.3" y="397.5" textLength="10.0" lengthAdjust="spacingAndGlyphs">50</text>
<text x="605.3" y="425.0" textLength="10.0" lengthAdjust="spacingAndGlyphs">30</text>
<text x="605.5" y="460.5" textLength="5.0" lengthAdjust="spacingAndGlyphs">0</text>
<text x="245.0" y="120.0" class="s">2</text>
<text x="325.3" y="225.0" class="s">3</text>
<text x="340.5" y="85.0" class="s">4</text>
<text x="421.5" y="183.0" class="s">5</text>
<text x="585.5" y="24.5" class="s">6</text>
</svg></body></html>
